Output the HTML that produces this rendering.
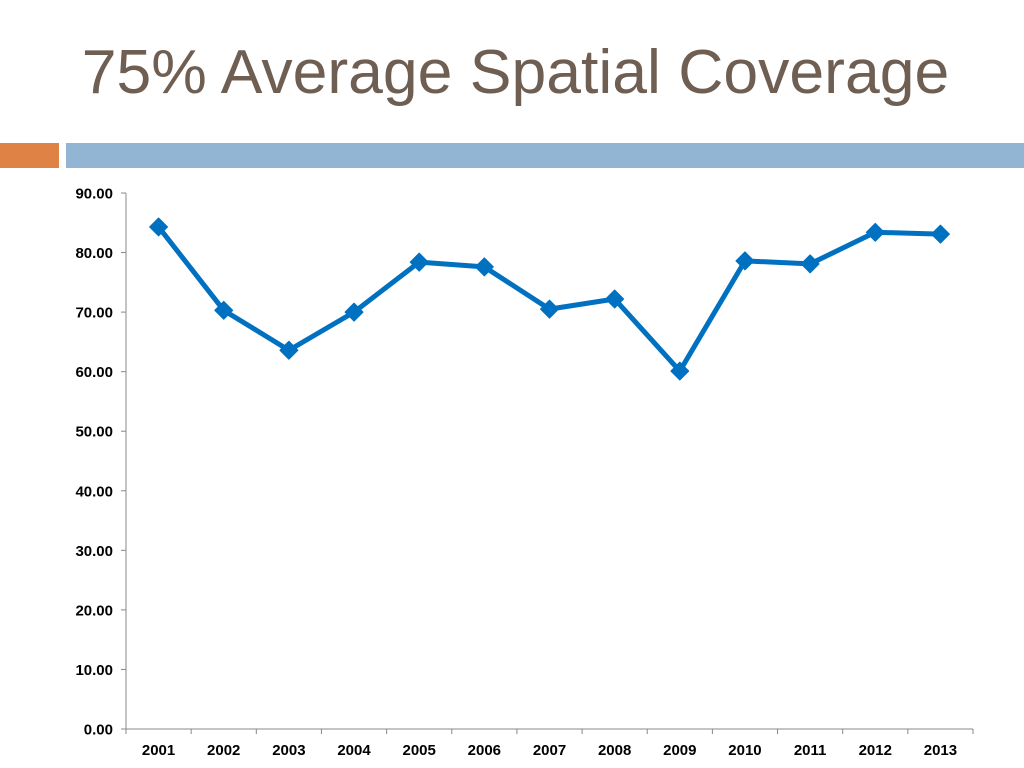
<!DOCTYPE html>
<html><head><meta charset="utf-8"><style>
body{margin:0;width:1024px;height:768px;background:#fff;overflow:hidden;font-family:"Liberation Sans",sans-serif}
#title{position:absolute;left:0;width:1031px;top:36px;text-align:center;font-size:62.5px;color:#6f5e52;white-space:nowrap}
.bar{position:absolute;top:143px;height:25px}
</style></head><body>
<div id="title">75% Average Spatial Coverage</div>
<div class="bar" style="left:0;width:59px;background:#de8345"></div>
<div class="bar" style="left:66px;width:958px;background:#93b5d4"></div>
<svg id="chart" width="1024" height="768" style="position:absolute;left:0;top:0"></svg>
<script>
const categories=["2001","2002","2003","2004","2005","2006","2007","2008","2009","2010","2011","2012","2013"];
const values=[84.3,70.3,63.6,70.0,78.4,77.6,70.5,72.2,60.1,78.6,78.1,83.4,83.1];
const yTicks=[0,10,20,30,40,50,60,70,80,90];
const svg=document.getElementById('chart');
const NS='http://www.w3.org/2000/svg';
const x0=126,x1=973,yb=729,yt=193,ymax=90;
const bw=(x1-x0)/categories.length;
const X=i=>x0+bw*(i+0.5);
const Y=v=>yb-(v/ymax)*(yb-yt);
function mk(t,a){const e=document.createElementNS(NS,t);for(const k in a)e.setAttribute(k,a[k]);svg.appendChild(e);return e;}
let e=mk('line',{x1:x0,y1:yt,x2:x0,y2:yb,stroke:'#888','stroke-width':1});


e=mk('line',{x1:x0,y1:yb,x2:x1,y2:yb,stroke:'#888','stroke-width':1});


yTicks.forEach(v=>{
 mk('line',{x1:x0-5,y1:Y(v),x2:x0,y2:Y(v),stroke:'#888'});
 const t=mk('text',{x:x0-13,y:Y(v)+5.5,'text-anchor':'end','font-size':15,'font-weight':'bold',fill:'#000'});
 t.textContent=v.toFixed(2);
 
 
});
for(let i=0;i<=categories.length;i++){mk('line',{x1:x0+bw*i,y1:yb,x2:x0+bw*i,y2:yb+5,stroke:'#888'});}
categories.forEach((c,i)=>{
 const t=mk('text',{x:X(i),y:yb+26,'text-anchor':'middle','font-size':15,'font-weight':'bold',fill:'#000'});
 t.textContent=c;
 
 
});
const p=mk('polyline',{points:values.map((v,i)=>X(i)+','+Y(v)).join(' '),fill:'none',stroke:'#0070c0','stroke-width':5,'stroke-linejoin':'round'});


values.forEach((v,i)=>{
 const x=X(i),y=Y(v),s=9;
 const m=mk('polygon',{points:`${x},${y-s} ${x+s},${y} ${x},${y+s} ${x-s},${y}`,fill:'#0070c0',stroke:'#0070c0','stroke-width':1,'stroke-linejoin':'round'});
 
 
});
</script>
</body></html>
